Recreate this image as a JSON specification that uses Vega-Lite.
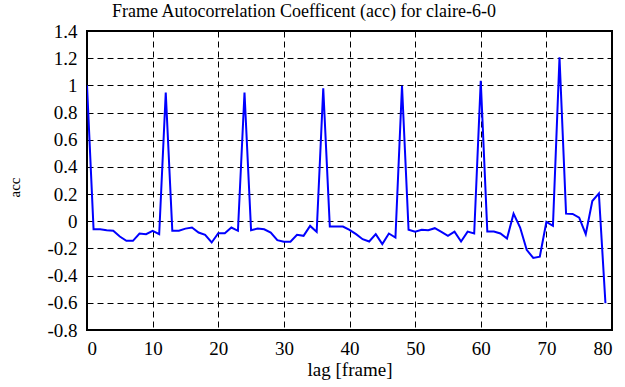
{
  "$schema": "https://vega.github.io/schema/vega-lite/v6.json",
  "width": 525,
  "height": 299,
  "autosize": "none",
  "padding": {"left": 87, "top": 31, "right": 13, "bottom": 57},
  "background": "white",
  "title": {
    "text": "Frame Autocorrelation Coefficent (acc) for claire-6-0",
    "font": "Liberation Serif",
    "fontSize": 18,
    "fontWeight": "normal",
    "color": "black",
    "anchor": "start",
    "frame": "group",
    "offset": 1,
    "dx": 25
  },
  "config": {
    "view": {"stroke": "black", "strokeWidth": 2},
    "axis": {
      "labelFont": "Liberation Serif",
      "titleFont": "Liberation Serif",
      "labelFontSize": 19,
      "titleFontSize": 19,
      "titleFontWeight": "normal",
      "labelColor": "black",
      "titleColor": "black",
      "domain": false,
      "ticks": false,
      "grid": true,
      "gridColor": "black",
      "gridDash": [6, 4],
      "gridWidth": 1,
      "gridOpacity": 1
    }
  },
  "data": {
    "values": [
      {"lag": 0, "acc": 1.0},
      {"lag": 1, "acc": -0.059},
      {"lag": 2, "acc": -0.059},
      {"lag": 3, "acc": -0.066},
      {"lag": 4, "acc": -0.07},
      {"lag": 5, "acc": -0.112},
      {"lag": 6, "acc": -0.144},
      {"lag": 7, "acc": -0.144},
      {"lag": 8, "acc": -0.09},
      {"lag": 9, "acc": -0.095},
      {"lag": 10, "acc": -0.07},
      {"lag": 11, "acc": -0.095},
      {"lag": 12, "acc": 0.947},
      {"lag": 13, "acc": -0.07},
      {"lag": 14, "acc": -0.07},
      {"lag": 15, "acc": -0.054},
      {"lag": 16, "acc": -0.046},
      {"lag": 17, "acc": -0.083},
      {"lag": 18, "acc": -0.1},
      {"lag": 19, "acc": -0.156},
      {"lag": 20, "acc": -0.088},
      {"lag": 21, "acc": -0.088},
      {"lag": 22, "acc": -0.046},
      {"lag": 23, "acc": -0.07},
      {"lag": 24, "acc": 0.947},
      {"lag": 25, "acc": -0.066},
      {"lag": 26, "acc": -0.054},
      {"lag": 27, "acc": -0.059},
      {"lag": 28, "acc": -0.083},
      {"lag": 29, "acc": -0.139},
      {"lag": 30, "acc": -0.151},
      {"lag": 31, "acc": -0.151},
      {"lag": 32, "acc": -0.1},
      {"lag": 33, "acc": -0.107},
      {"lag": 34, "acc": -0.034},
      {"lag": 35, "acc": -0.078},
      {"lag": 36, "acc": 0.979},
      {"lag": 37, "acc": -0.039},
      {"lag": 38, "acc": -0.039},
      {"lag": 39, "acc": -0.039},
      {"lag": 40, "acc": -0.063},
      {"lag": 41, "acc": -0.095},
      {"lag": 42, "acc": -0.132},
      {"lag": 43, "acc": -0.149},
      {"lag": 44, "acc": -0.095},
      {"lag": 45, "acc": -0.168},
      {"lag": 46, "acc": -0.09},
      {"lag": 47, "acc": -0.12},
      {"lag": 48, "acc": 0.996},
      {"lag": 49, "acc": -0.063},
      {"lag": 50, "acc": -0.076},
      {"lag": 51, "acc": -0.063},
      {"lag": 52, "acc": -0.066},
      {"lag": 53, "acc": -0.051},
      {"lag": 54, "acc": -0.078},
      {"lag": 55, "acc": -0.107},
      {"lag": 56, "acc": -0.076},
      {"lag": 57, "acc": -0.149},
      {"lag": 58, "acc": -0.076},
      {"lag": 59, "acc": -0.09},
      {"lag": 60, "acc": 1.033},
      {"lag": 61, "acc": -0.076},
      {"lag": 62, "acc": -0.076},
      {"lag": 63, "acc": -0.09},
      {"lag": 64, "acc": -0.127},
      {"lag": 65, "acc": 0.056},
      {"lag": 66, "acc": -0.046},
      {"lag": 67, "acc": -0.21},
      {"lag": 68, "acc": -0.27},
      {"lag": 69, "acc": -0.26},
      {"lag": 70, "acc": -0.005},
      {"lag": 71, "acc": -0.034},
      {"lag": 72, "acc": 1.206},
      {"lag": 73, "acc": 0.056},
      {"lag": 74, "acc": 0.054},
      {"lag": 75, "acc": 0.027},
      {"lag": 76, "acc": -0.095},
      {"lag": 77, "acc": 0.149},
      {"lag": 78, "acc": 0.205},
      {"lag": 79, "acc": -0.603}
    ]
  },
  "mark": {"type": "line", "color": "#0000ff", "strokeWidth": 2, "clip": true},
  "encoding": {
    "x": {
      "field": "lag",
      "type": "quantitative",
      "scale": {"domain": [0, 80], "nice": false, "zero": false},
      "axis": {
        "values": [0, 10, 20, 30, 40, 50, 60, 70, 80],
        "title": "lag [frame]",
        "labelFont": "Liberation Serif",
        "labelFontSize": 19,
        "labelPadding": 9,
        "titlePadding": 2
      }
    },
    "y": {
      "field": "acc",
      "type": "quantitative",
      "scale": {"domain": [-0.8, 1.4], "nice": false, "zero": false},
      "axis": {
        "values": [-0.8, -0.6, -0.4, -0.2, 0, 0.2, 0.4, 0.6, 0.8, 1, 1.2, 1.4],
        "labelExpr": "'' + round(datum.value * 10) / 10",
        "labelFont": "Liberation Serif",
        "labelFontSize": 19,
        "labelPadding": 10,
        "title": "acc",
        "titleFontSize": 15,
        "titleAngle": 270,
        "titleAlign": "center",
        "titleBaseline": "middle",
        "titleX": -73,
        "titleY": 156
      }
    }
  }
}
